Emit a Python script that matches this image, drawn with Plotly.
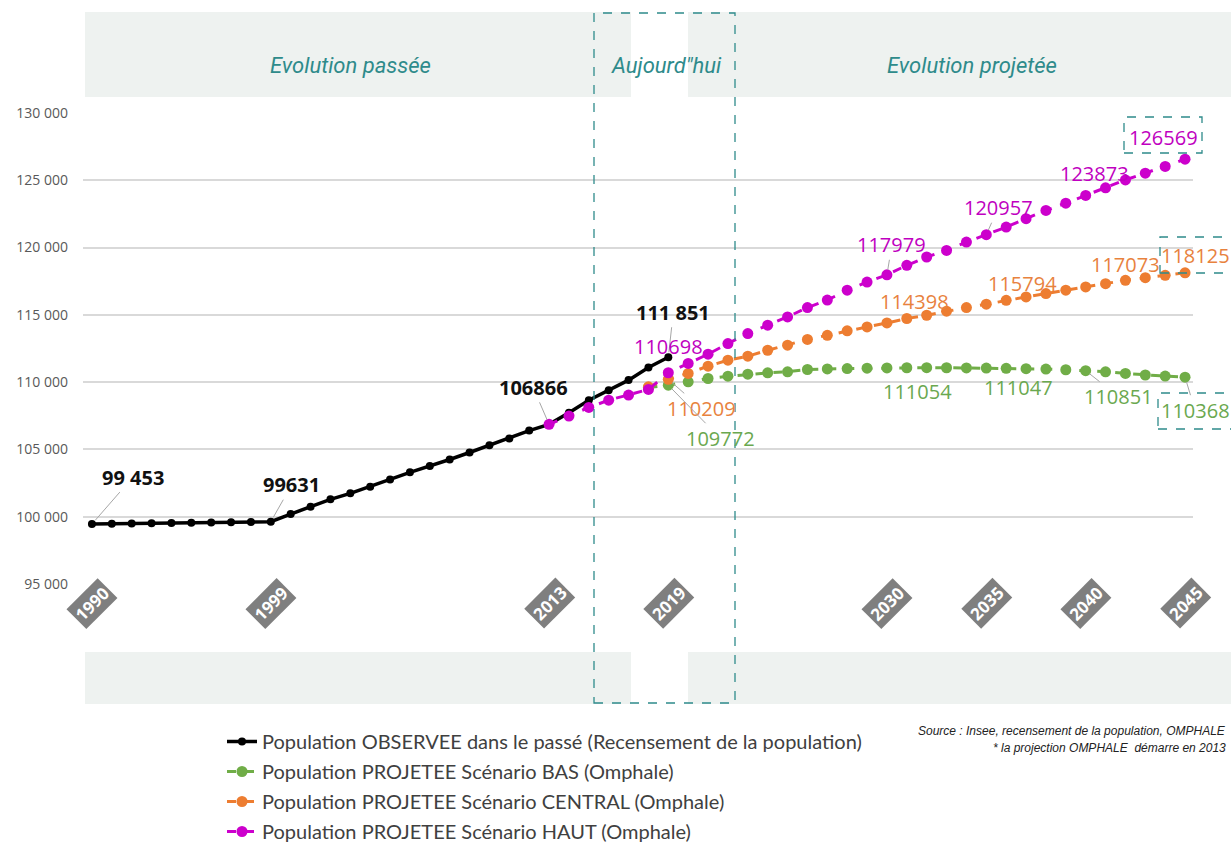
import plotly.graph_objects as go

# ---------------- data ----------------
years_obs = list(range(1990, 2020))
pop_obs = [99453, 99470, 99490, 99510, 99530, 99550, 99570, 99590, 99610, 99631,
           100200, 100740, 101290, 101740, 102230, 102770, 103300, 103760, 104250,
           104770, 105310, 105810, 106400, 106866,
           107720, 108660, 109400, 110150, 111090, 111851]

years_haut = list(range(2013, 2046))
pop_haut = [106866, 107480, 108120, 108660, 109040, 109460, 110698, 111390, 112080,
            112870, 113610, 114230, 114850, 115540, 116100, 116830, 117440, 117979,
            118680, 119300, 119790, 120410, 120957, 121520, 122150, 122760, 123300,
            123873, 124440, 125030, 125530, 126030, 126569]

years_proj = list(range(2018, 2046))
pop_central = [109650, 110209, 110650, 111190, 111630, 111930, 112370, 112750, 113170,
               113480, 113810, 114100, 114398, 114730, 114970, 115270, 115540, 115794,
               116080, 116330, 116580, 116830, 117073, 117320, 117570, 117760, 117940,
               118125]
pop_bas = [109600, 109772, 110020, 110270, 110440, 110590, 110690, 110770, 110940,
           110980, 111010, 111040, 111054, 111070, 111075, 111070, 111060, 111047,
           111030, 111000, 110970, 110920, 110851, 110770, 110650, 110530, 110450,
           110368]

tick_years = [1990, 1999, 2013, 2019, 2030, 2035, 2040, 2045]

series_names = [
    "Population OBSERVEE dans le passé (Recensement de la population)",
    "Population PROJETEE Scénario BAS (Omphale)",
    "Population PROJETEE Scénario CENTRAL (Omphale)",
    "Population PROJETEE Scénario HAUT (Omphale)",
]

labels_obs = [(1990, "99 453"), (1999, "99631"), (2013, "106866"), (2019, "111 851")]
labels_haut = [2019, 2030, 2035, 2040, 2045]
labels_central = [2019, 2030, 2035, 2040, 2045]
labels_bas = [2019, 2030, 2035, 2040, 2045]

band_titles = ["Evolution passée", "Aujourd\"hui", "Evolution projetée"]
source_lines = ["Source : Insee, recensement de la population, OMPHALE",
                "* la projection OMPHALE  démarre en 2013"]

# ---------------- styling ----------------
W, H = 1231, 845
L, R, T, B = 83, 38, 113, 261
PW, PH = W - L - R, H - T - B
BLACK = "#000000"
GREEN = "#70AD47"
ORANGE = "#ED7D31"
MAGENTA = "#CC00CC"
TEAL = "#2E8B8B"
BAND = "#EEF2F0"
FONT = "Open Sans, Noto Sans, sans-serif"


def px_x(px):
    return (px - L) / PW


def px_y(py):
    return (H - B - py) / PH


fig = go.Figure()

fig.add_trace(go.Scatter(x=years_obs, y=pop_obs, name=series_names[0], mode="lines+markers",
                         line=dict(color=BLACK, width=3.5), marker=dict(size=8, color=BLACK),
                         legendgroup="a"))
fig.add_trace(go.Scatter(x=years_proj, y=pop_bas, name=series_names[1], mode="lines+markers",
                         line=dict(color=GREEN, width=3, dash="dash"),
                         marker=dict(size=11, color=GREEN), legendgroup="b"))
fig.add_trace(go.Scatter(x=years_proj, y=pop_central, name=series_names[2], mode="lines+markers",
                         line=dict(color=ORANGE, width=3, dash="dash"),
                         marker=dict(size=11, color=ORANGE), legendgroup="c"))
fig.add_trace(go.Scatter(x=years_haut, y=pop_haut, name=series_names[3], mode="lines+markers",
                         line=dict(color=MAGENTA, width=3, dash="dash"),
                         marker=dict(size=11, color=MAGENTA), legendgroup="d"))

shapes = []
for (y0, y1) in [(12, 97), (652, 704)]:
    for (x0, x1) in [(85, 631), (688, 1240)]:
        shapes.append(dict(type="rect", xref="paper", yref="paper",
                           x0=px_x(x0), x1=px_x(x1), y0=px_y(y1), y1=px_y(y0),
                           fillcolor=BAND, line=dict(width=0), layer="below"))
shapes.append(dict(type="rect", xref="paper", yref="paper",
                   x0=px_x(594), x1=px_x(735), y0=px_y(703), y1=px_y(13),
                   line=dict(color=TEAL, width=1.3, dash="dash"), fillcolor="rgba(0,0,0,0)"))
for (x0, x1, y0, y1) in [(1124, 1202, 117, 153), (1160, 1245, 237, 273), (1158, 1245, 393, 429)]:
    shapes.append(dict(type="rect", xref="paper", yref="paper",
                       x0=px_x(x0), x1=px_x(x1), y0=px_y(y1), y1=px_y(y0),
                       line=dict(color=TEAL, width=1.3, dash="dash"), fillcolor="rgba(0,0,0,0)"))

ann = []
for txt, cx in zip(band_titles, [350, 666, 972]):
    ann.append(dict(text=txt, xref="paper", yref="paper", x=px_x(cx), y=px_y(65),
                    xanchor="center", yanchor="middle", showarrow=False,
                    font=dict(family="Liberation Sans Narrow, Roboto, sans-serif",
                              size=22, color=TEAL, style="italic")))

for yr in tick_years:
    ann.append(dict(text="<b>%d</b>" % yr, xref="x", yref="paper", x=yr, y=px_y(603),
                    xanchor="center", yanchor="middle",
                    showarrow=False, textangle=-45, bgcolor="#7F7F7F", borderpad=2,
                    font=dict(family=FONT, size=17, color="white")))


def label(x, y, text, color, dx, dy, bold=False, arrow=True, size=20):
    t = "<b>%s</b>" % text if bold else text
    d = dict(text=t, x=x, y=y, xref="x", yref="y",
             font=dict(family=FONT, size=size, color=color))
    if arrow:
        d.update(showarrow=True, arrowhead=0, arrowwidth=1, arrowcolor="#A6A6A6",
                 ax=dx, ay=dy, standoff=5)
    else:
        d.update(showarrow=False, xshift=dx, yshift=-dy, xanchor="center", yanchor="middle")
    ann.append(d)


obs_off = {1990: (41, -47), 1999: (21, -37), 2013: (-16, -37), 2019: (5, -45)}
for yr, txt in labels_obs:
    label(yr, pop_obs[years_obs.index(yr)], txt, "#111111", *obs_off[yr], bold=True, size=20)

haut_off = {2019: (0, -26), 2030: (5, -30), 2035: (12, -27), 2040: (9, -22), 2045: (-22, -22)}
for yr in labels_haut:
    v = pop_haut[years_haut.index(yr)]
    label(yr, v, str(v), "#C000C0", *haut_off[yr], arrow=(yr in (2030, 2035)))

cen_off = {2019: (33, 29), 2030: (28, -21), 2035: (36, -21), 2040: (40, -22), 2045: (10, -17)}
for yr in labels_central:
    v = pop_central[years_proj.index(yr)]
    label(yr, v, str(v), "#E8823E", *cen_off[yr], arrow=(yr == 2019))

bas_off = {2019: (52, 53), 2030: (31, 24), 2035: (32, 19), 2040: (33, 26), 2045: (10, 33)}
for yr in labels_bas:
    v = pop_bas[years_proj.index(yr)]
    label(yr, v, str(v), "#6AA84F", *bas_off[yr], arrow=(yr in (2019, 2040, 2045)))

ann.append(dict(text="<i>%s</i>" % source_lines[0], xref="paper", yref="paper",
                x=px_x(1228), y=px_y(731), xanchor="right", yanchor="middle", showarrow=False,
                font=dict(family="Liberation Sans, Arial, sans-serif", size=12, color="#222222")))
ann.append(dict(text="<i>%s</i>" % source_lines[1], xref="paper", yref="paper",
                x=px_x(1228), y=px_y(748), xanchor="right", yanchor="middle", showarrow=False,
                font=dict(family="Liberation Sans, Arial, sans-serif", size=12, color="#222222")))

fig.update_layout(
    width=W, height=H,
    margin=dict(l=L, r=R, t=T, b=B, autoexpand=False),
    paper_bgcolor="white", plot_bgcolor="white",
    separators=". ",
    shapes=shapes, annotations=ann,
    showlegend=True,
    legend=dict(x=px_x(222), y=px_y(722), xanchor="left", yanchor="top",
                orientation="v", tracegroupgap=1, bgcolor="rgba(0,0,0,0)",
                font=dict(family="Lato, Open Sans, sans-serif", size=20, color="#404040")),
    xaxis=dict(range=[1989.55, 2045.4], showgrid=False, showticklabels=False,
               zeroline=False, showline=False, ticks=""),
    yaxis=dict(range=[95000, 130000], dtick=5000, tick0=95000, tickformat=",d",
               showgrid=True, gridcolor="#D9D9D9", gridwidth=1.5, zeroline=False,
               showline=False, ticks="", ticklabelstandoff=14,
               tickfont=dict(family=FONT, size=14, color="#595959")),
)

fig.write_html("out.html", config={"displayModeBar": False},
               post_script="document.body.style.margin='0px';")
